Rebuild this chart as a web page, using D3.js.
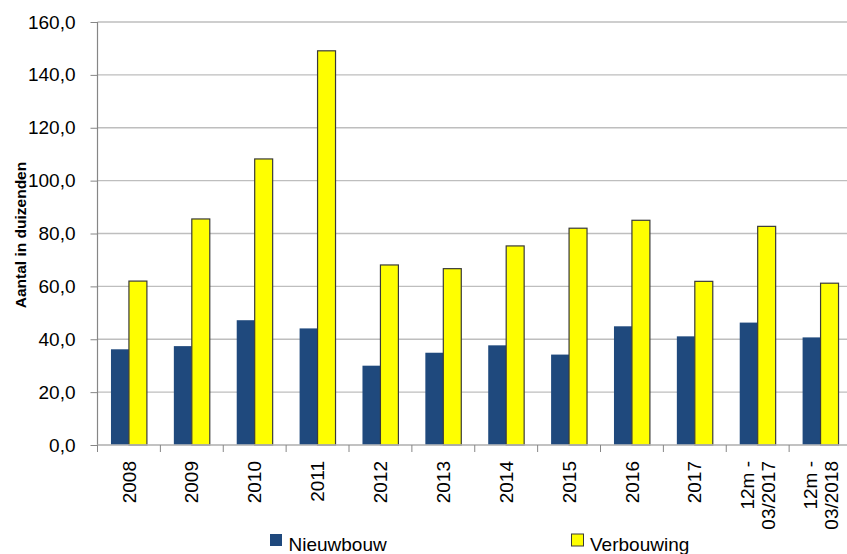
<!DOCTYPE html>
<html>
<head>
<meta charset="utf-8">
<script src="https://cdn.jsdelivr.net/npm/d3@7/dist/d3.min.js"></script>
<style>
  html, body { margin: 0; padding: 0; background: #fff; }
  svg { display: block; }
  text { font-family: "Liberation Sans", Arial, sans-serif; fill: #000; }
</style>
</head>
<body>
<svg id="chart" width="847" height="554"></svg>
<script>
const categories = ["2008", "2009", "2010", "2011", "2012", "2013", "2014", "2015", "2016", "2017", "12m -\n03/2017", "12m -\n03/2018"];
const nieuwbouw = [36.2, 37.4, 47.2, 44.1, 30.0, 34.9, 37.7, 34.2, 44.9, 41.1, 46.3, 40.7];
const verbouwing = [62.0, 85.5, 108.2, 149.1, 68.1, 66.7, 75.3, 82.0, 85.0, 61.9, 82.7, 61.2];
const seriesNames = ["Nieuwbouw", "Verbouwing"];
const yTicks = [0, 20, 40, 60, 80, 100, 120, 140, 160];
const yTitle = "Aantal in duizenden";

const colors = { "Nieuwbouw": "#1F497D", "Verbouwing": "#FFFF00" };

const svg = d3.select("#chart");
const mLeft = 97.5, mRight = 852, mTop = 22, mBottom = 445;

const x0 = d3.scaleBand().domain(categories).range([mLeft, mRight]).paddingInner(0).paddingOuter(0);
const x1 = d3.scaleBand().domain(seriesNames).range([0, x0.bandwidth()]).paddingInner(0).paddingOuter(0.75);
const y = d3.scaleLinear().domain([0, 160]).range([mBottom, mTop]);

const fmt = v => d3.format(".1f")(v).replace(".", ",");

// gridlines
svg.append("g").selectAll("line").data(yTicks).join("line")
  .attr("x1", mLeft).attr("x2", 847)
  .attr("y1", d => y(d)).attr("y2", d => y(d))
  .attr("stroke", "#BEBEBE").attr("stroke-width", 1.3);

// y axis
const yAxis = d3.axisLeft(y).tickValues(yTicks).tickSize(7).tickPadding(15).tickFormat(fmt);
const gy = svg.append("g").attr("transform", `translate(${mLeft},0)`).call(yAxis);
gy.select(".domain").attr("stroke", "#868686").attr("stroke-width", 1.2).attr("d", `M0,${mTop}V${mBottom}`);
gy.selectAll(".tick line").attr("stroke", "#868686");
gy.selectAll(".tick text").style("font-size", "19px").attr("fill", "#000");

// bars
const data = categories.map((c, i) => ({ c, vals: [
  { s: "Nieuwbouw", v: nieuwbouw[i] },
  { s: "Verbouwing", v: verbouwing[i] }
]}));

const groups = svg.append("g").selectAll("g").data(data).join("g")
  .attr("transform", d => `translate(${x0(d.c)},0)`);
groups.selectAll("rect").data(d => d.vals).join("rect")
  .attr("x", d => x1(d.s))
  .attr("width", x1.bandwidth())
  .attr("y", d => y(d.v))
  .attr("height", d => y(0) - y(d.v))
  .attr("fill", d => colors[d.s])
  .attr("stroke", d => d.s === "Verbouwing" ? "#3A3A3A" : "none")
  .attr("stroke-width", 1.2);

// x axis baseline and ticks
const gx = svg.append("g");
gx.append("line").attr("x1", mLeft).attr("x2", 847).attr("y1", mBottom).attr("y2", mBottom)
  .attr("stroke", "#BEBEBE").attr("stroke-width", 1.3);
const boundaries = categories.map(c => x0(c)).concat([x0(categories[categories.length - 1]) + x0.bandwidth()]);
gx.selectAll("line.tk").data(boundaries).join("line").attr("class", "tk")
  .attr("x1", d => d).attr("x2", d => d).attr("y1", mBottom).attr("y2", mBottom + 7)
  .attr("stroke", "#868686").attr("stroke-width", 1);

// x labels, rotated
const labels = gx.selectAll("g.lbl").data(categories).join("g").attr("class", "lbl")
  .attr("transform", d => `translate(${x0(d) + x0.bandwidth() / 2},461) rotate(-90)`);
labels.each(function(d) {
  const lines = d.split("\n");
  const n = lines.length;
  const lh = 21;
  const t = d3.select(this).append("text").attr("text-anchor", "end").style("font-size", "19px");
  lines.forEach((ln, i) => {
    t.append("tspan").attr("x", 0).attr("y", (i - (n - 1) / 2) * lh).attr("dy", "0.35em").text(ln);
  });
});

// y title
svg.append("text")
  .attr("transform", `translate(25.5,235) rotate(-90)`)
  .attr("text-anchor", "middle")
  .style("font-size", "15.5px").style("font-weight", "bold")
  .text(yTitle);

// legend
const legendX = [270, 571.5];
const lg = svg.append("g").selectAll("g").data(seriesNames).join("g")
  .attr("transform", (d, i) => `translate(${legendX[i]},534)`);
lg.append("rect").attr("width", 12).attr("height", 12)
  .attr("fill", d => colors[d])
  .attr("stroke", d => d === "Verbouwing" ? "#3A3A3A" : "none").attr("stroke-width", 1);
lg.append("text").attr("x", 18.5).attr("y", 16.5).style("font-size", "19px").text(d => d);
</script>
</body>
</html>
